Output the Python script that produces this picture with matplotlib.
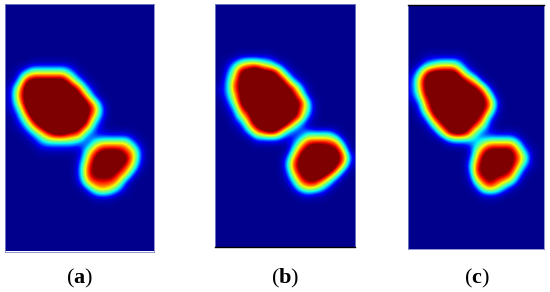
import numpy as np
import matplotlib
matplotlib.use("Agg")
import matplotlib.pyplot as plt
from matplotlib.colors import ListedColormap

plt.rcParams['mathtext.fontset'] = 'custom'
plt.rcParams['mathtext.rm'] = 'Liberation Serif'
plt.rcParams['mathtext.bf'] = 'Liberation Serif:bold'
plt.rcParams['font.family'] = 'Liberation Serif'

BLANK = "0" * 19

# Field intensity on a coarse 19 x 31 grid (0 = background, 9 = peak)
rows_a = [BLANK] * 7 + [
    "0001111110000000000", "0135555531000000000", "0278888863100000000",
    "1589999987310000000", "1689999998620000000", "1589999999862000000",
    "1379999999873000000", "0258999999852000000", "0136899998731000000",
    "0013578877322222100", "0001344443256666310", "0000111111578887620",
    "0000000002689998620", "0000000003789987510", "0000000003788876200",
    "0000000002677762000", "0000000000256531000", "0000000000011100000",
] + [BLANK] * 6

rows_b = [BLANK] * 6 + [
    "0001111100000000000", "0135665421000000000", "0258898873100000000",
    "0368999987310000000", "1378999998741000000", "1368999999862000000",
    "0258999999885100000", "0137899999975100000", "0025799999873100000",
    "0012689998631000000", "0001367874224444200", "0000022221257777620",
    "0000000000478998850", "0000000002689999872", "0000000003789999861",
    "0000000002688998620", "0000000001478875200", "0000000000256642000",
    "0000000000012110000",
] + [BLANK] * 6

rows_c = [BLANK] * 6 + [
    "0011111100000000000", "0134555310000000000", "1478888631000000000",
    "2689999875100000000", "2689999988620000000", "2588999998851000000",
    "1378999999873000000", "0268999998862000000", "0137899998731000000",
    "0014789987520000000", "0001478874222221000", "0000023333566664100",
    "0000000015788886310", "0000000026899987510", "0000000037899886310",
    "0000000027888874100", "0000000015787652000", "0000000002565310000",
    "0000000000111000000",
] + [BLANK] * 6

labels = ["a", "b", "c"]

# Tone curve of the colour scale: digit level -> position in the jet map
levels = [0, 1, 2, 3, 4, 5, 5.8, 6.6, 7.7, 9]
jet_pos = [0.012, 0.04, 0.10, 0.24, 0.38, 0.52, 0.65, 0.80, 1.0, 1.0]

W, H = 550, 292
fig = plt.figure(figsize=(W / 100, H / 100), dpi=100, facecolor="white")

samples = np.linspace(0, 9, 512)
cm_tone = ListedColormap(plt.get_cmap("jet")(np.interp(samples, levels, jet_pos)))


def panel(rows, x0, x1, y0, y1, edge, label, lx):
    ax = fig.add_axes([x0 / W, 1 - y1 / H, (x1 - x0) / W, (y1 - y0) / H])
    z = np.array([[int(c) for c in r] for r in rows], dtype=float)
    ax.imshow(z, cmap=cm_tone, vmin=0, vmax=9, aspect="auto",
              interpolation="bicubic", interpolation_stage="data")
    ax.set_xticks([])
    ax.set_yticks([])
    for side, spine in ax.spines.items():
        spine.set_color(edge.get(side, "#7f86c8"))
        spine.set_linewidth(1.0 if side in edge else 0.6)
    fig.text(lx / W, 1 - 278 / H, "(" + r"$\mathbf{" + label + "}$" + ")",
             ha="center", va="center", fontsize=16, color="black")


panel(rows_a, 5.3, 154.3, 4, 251.5, {}, labels[0], 80)
panel(rows_b, 214.7, 355, 4, 247, {"bottom": "black"}, labels[1], 285)
panel(rows_c, 408.3, 544.3, 4.7, 249, {"top": "black"}, labels[2], 477)

fig.savefig("out.png", dpi=100)
